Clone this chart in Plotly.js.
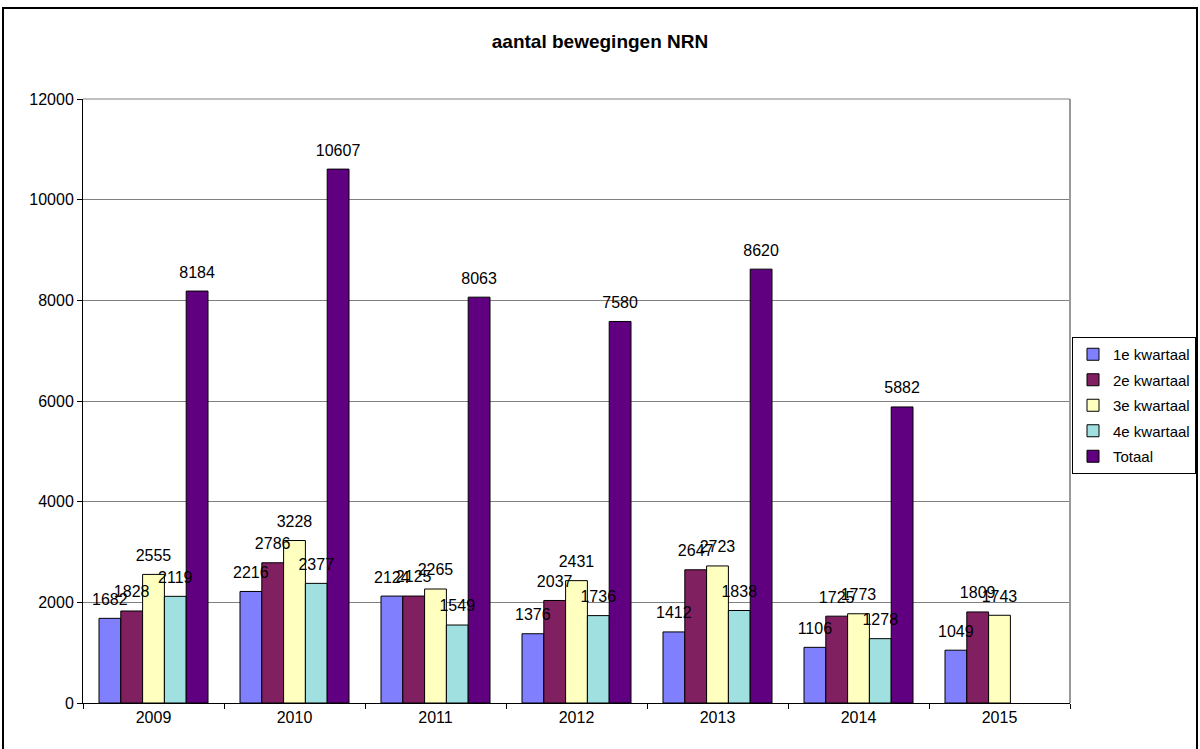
<!DOCTYPE html>
<html>
<head>
<meta charset="utf-8">
<script src="https://cdn.plot.ly/plotly-3.0.1.min.js"></script>
<style>html,body{margin:0;padding:0;background:#fff;}#chart{width:1200px;height:749px;}</style>
</head>
<body>
<div id="chart"></div>
<script>
const years = ["2009", "2010", "2011", "2012", "2013", "2014", "2015"];
const seriesNames = ["1e kwartaal", "2e kwartaal", "3e kwartaal", "4e kwartaal", "Totaal"];
const q1 = [1682, 2216, 2124, 1376, 1412, 1106, 1049];
const q2 = [1828, 2786, 2125, 2037, 2647, 1725, 1809];
const q3 = [2555, 3228, 2265, 2431, 2723, 1773, 1743];
const q4 = [2119, 2377, 1549, 1736, 1838, 1278, null];
const totaal = [8184, 10607, 8063, 7580, 8620, 5882, null];
const colors = ["#8080FF", "#802060", "#FFFFC0", "#A0E0E0", "#600080"];
const yTicks = [0, 2000, 4000, 6000, 8000, 10000, 12000];

const allSeries = [q1, q2, q3, q4, totaal];
const FONT = "Arial, 'Liberation Sans', sans-serif";

// visible bars
const barTraces = allSeries.map((vals, i) => ({
  type: "bar",
  name: seriesNames[i],
  legendgroup: "g" + i,
  x: years,
  y: vals,
  marker: {color: colors[i], line: {color: "#000", width: 1}},
  hoverinfo: "x+y+name"
}));

// label layer drawn on top of all bars (same grouping, transparent bars)
const labelTraces = allSeries.map((vals, i) => ({
  type: "bar",
  name: seriesNames[i] + " labels",
  showlegend: false,
  xaxis: "x2", yaxis: "y2",
  x: years,
  y: vals,
  text: vals.map(v => v == null ? "" : String(v)),
  textposition: "outside",
  constraintext: "none",
  cliponaxis: false,
  textfont: {family: FONT, size: 16, color: "#000"},
  marker: {color: "rgba(0,0,0,0)", line: {width: 0}},
  hoverinfo: "skip"
}));

const labelLift = 150; // raise labels slightly above bar tops

const layout = {
  width: 1200, height: 749,
  paper_bgcolor: "#fff", plot_bgcolor: "#fff",
  margin: {l: 83, r: 130, t: 99, b: 46, autoexpand: false},
  barmode: "group",
  bargap: 0.227,
  bargroupgap: 0,
  font: {family: FONT, size: 16, color: "#000"},
  title: {
    text: "<b>aantal bewegingen NRN</b>",
    font: {family: FONT, size: 19, color: "#000"},
    x: 0.5, xref: "container", xanchor: "center",
    y: 1 - 41/749, yref: "container", yanchor: "middle"
  },
  xaxis: {
    type: "category",
    tickson: "boundaries",
    ticks: "outside", ticklen: 5, tickcolor: "#000",
    showline: true, linecolor: "#000", linewidth: 1,
    showgrid: false,
    tickfont: {family: FONT, size: 16, color: "#000"},
    fixedrange: true
  },
  yaxis: {
    range: [0, 12000],
    tickvals: yTicks,
    ticktext: yTicks.map(String),
    ticks: "outside", ticklen: 5, tickcolor: "#000",
    showline: true, linecolor: "#000", linewidth: 1,
    showgrid: true, gridcolor: "#808080", gridwidth: 1,
    zeroline: false,
    tickfont: {family: FONT, size: 16, color: "#000"},
    fixedrange: true
  },
  xaxis2: {
    type: "category", overlaying: "x", matches: "x",
    showticklabels: false, showgrid: false, showline: false, ticks: "", fixedrange: true
  },
  yaxis2: {
    overlaying: "y",
    range: [-labelLift, 12000 - labelLift],
    showticklabels: false, showgrid: false, showline: false, zeroline: false, ticks: "", fixedrange: true
  },
  showlegend: true,
  legend: {
    xref: "container", yref: "container",
    x: 1072 / 1200, xanchor: "left",
    y: 1 - 337 / 749, yanchor: "top",
    bgcolor: "#fff",
    bordercolor: "#000", borderwidth: 1,
    font: {family: FONT, size: 15, color: "#000"},
    tracegroupgap: 3,
    itemwidth: 30
  },
  shapes: [
    {type: "line", xref: "paper", yref: "paper", x0: 1, x1: 1, y0: 0, y1: 1,
     line: {color: "#999999", width: 2}},
    {type: "line", xref: "paper", yref: "paper", x0: 0, x1: 1, y0: 1, y1: 1,
     line: {color: "#808080", width: 1}},
    {type: "rect", xref: "paper", yref: "paper",
     x0: (3 - 83) / 987, x1: (1197 - 83) / 987,
     y0: (703 - 760) / 604, y1: (703 - 8) / 604,
     line: {color: "#000", width: 2}, fillcolor: "rgba(0,0,0,0)", layer: "above"}
  ]
};

Plotly.newPlot("chart", barTraces.concat(labelTraces), layout, {displayModeBar: false, staticPlot: true});
</script>
</body>
</html>
